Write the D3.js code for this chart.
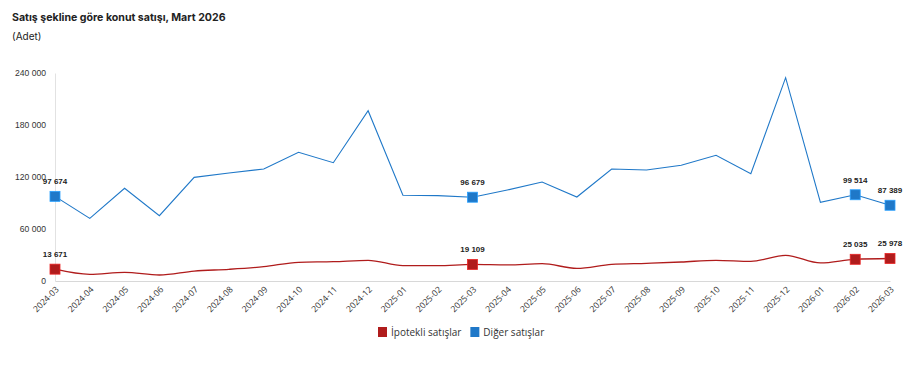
<!DOCTYPE html>
<html>
<head>
<meta charset="utf-8">
<script src="https://cdn.jsdelivr.net/npm/d3@7"></script>
<style>
  body { margin: 0; background: #fff; }
  svg text { font-family: "Liberation Sans", Arial, sans-serif; }
  .title { font-family: Inter, sans-serif; font-weight: 700; font-size: 10.6px; fill: #222; }
  .subtitle { font-family: Inter, sans-serif; font-size: 10px; fill: #222; }
  .xlab { font-family: "Open Sans", sans-serif; font-size: 8.6px; fill: #333; }
  .ylab { font-size: 8.6px; fill: #333; }
  .vlab { font-size: 8px; font-weight: 700; fill: #222; }
  .leg { font-family: "Open Sans", sans-serif; font-size: 10px; fill: #333; }
</style>
</head>
<body>
<div id="chart"></div>
<script>
var months = ['2024-03','2024-04','2024-05','2024-06','2024-07','2024-08','2024-09','2024-10','2024-11','2024-12',
  '2025-01','2025-02','2025-03','2025-04','2025-05','2025-06','2025-07','2025-08','2025-09','2025-10','2025-11','2025-12',
  '2026-01','2026-02','2026-03']
var ipotekli = [13671,7700,10000,6900,11500,13500,16500,21600,22300,23900,
  17700,17700,19109,18500,20000,14600,19200,20400,21900,23900,22700,29600,
  20800,25035,25978]
var diger = [97674,72300,107000,75300,119600,124600,129200,148500,136500,196500,
  98900,98500,96679,105000,114200,96900,129200,128100,133500,145000,123800,234600,
  90800,99514,87389]
var yTicks = [0,60000,120000,180000,240000]
// points that get a marker + value label
var markIdx = {ipotekli: [0,12,23,24], diger: [0,12,23,24]}

var series = [
  {key: 'ipotekli', name: 'İpotekli satışlar', values: ipotekli, color: '#b01c1c'},
  {key: 'diger', name: 'Diğer satışlar', values: diger, color: '#1f78c8'}
]

var fullWidth = 913, fullHeight = 367
var margin = {top: 73, right: 23, bottom: 86, left: 55}
var width = fullWidth - margin.left - margin.right
var height = fullHeight - margin.top - margin.bottom

var x = d3.scalePoint().domain(months).range([0, width])
var y = d3.scaleLinear().domain([0, 240000]).range([height, 0])
var fmt = function(v) { return d3.format(',')(v).replace(/,/g, ' ') }

var svg = d3.select('#chart').append('svg')
  .attr('width', fullWidth)
  .attr('height', fullHeight)

svg.append('text').attr('class', 'title').attr('x', 12).attr('y', 21)
  .text('Satış şekline göre konut satışı, Mart 2026')
svg.append('text').attr('class', 'subtitle').attr('x', 12).attr('y', 40)
  .text('(Adet)')

var g = svg.append('g')
  .attr('transform', 'translate(' + margin.left + ',' + margin.top + ')')

// y axis
var yAxis = g.append('g')
  .call(d3.axisLeft(y).tickValues(yTicks).tickSize(0).tickPadding(9).tickFormat(fmt))
yAxis.select('.domain').attr('stroke', '#e2e2e2')
yAxis.selectAll('text').attr('class', 'ylab')

// x axis
var xAxis = g.append('g')
  .attr('transform', 'translate(0,' + height + ')')
  .call(d3.axisBottom(x).tickSize(0).tickPadding(0))
xAxis.select('.domain').attr('stroke', '#d8d8d8')
xAxis.selectAll('text')
  .attr('class', 'xlab')
  .attr('text-anchor', 'end')
  .attr('dy', 0)
  .attr('transform', 'translate(4,9) rotate(-45)')

var line = d3.line()
  .x(function(d, i) { return x(months[i]) })
  .y(function(d) { return y(d) })

series.forEach(function(s) {
  g.append('path')
    .datum(s.values)
    .attr('fill', 'none')
    .attr('stroke', s.color)
    .attr('stroke-width', s.key == 'ipotekli' ? 1.3 : 1.1)
    .attr('d', line.curve(s.key == 'ipotekli' ? d3.curveMonotoneX : d3.curveLinear))

  var pts = markIdx[s.key].map(function(i) { return {m: months[i], v: s.values[i]} })
  g.selectAll('.mk-' + s.key)
    .data(pts)
    .enter().append('rect')
      .attr('x', function(d) { return x(d.m) - 5 })
      .attr('y', function(d) { return y(d.v) - 5 })
      .attr('width', 10)
      .attr('height', 10)
      .attr('fill', s.color)
      .attr('stroke', d3.color(s.color).brighter(0.8))
      .attr('stroke-width', 0.8)
  g.selectAll('.vl-' + s.key)
    .data(pts)
    .enter().append('text')
      .attr('class', 'vlab')
      .attr('x', function(d) { return x(d.m) })
      .attr('y', function(d) { return y(d.v) - 12 })
      .attr('text-anchor', 'middle')
      .text(function(d) { return fmt(d.v) })
})

// legend
var leg = svg.append('g').attr('transform', 'translate(378,327)')
var lx = 0
series.forEach(function(s) {
  var item = leg.append('g').attr('transform', 'translate(' + lx + ',0)')
  item.append('rect').attr('width', 9).attr('height', 10).attr('fill', s.color)
  var t = item.append('text').attr('class', 'leg').attr('x', 13).attr('y', 8.5).text(s.name)
  lx += 13 + t.node().getComputedTextLength() + 9
})
</script>
</body>
</html>
